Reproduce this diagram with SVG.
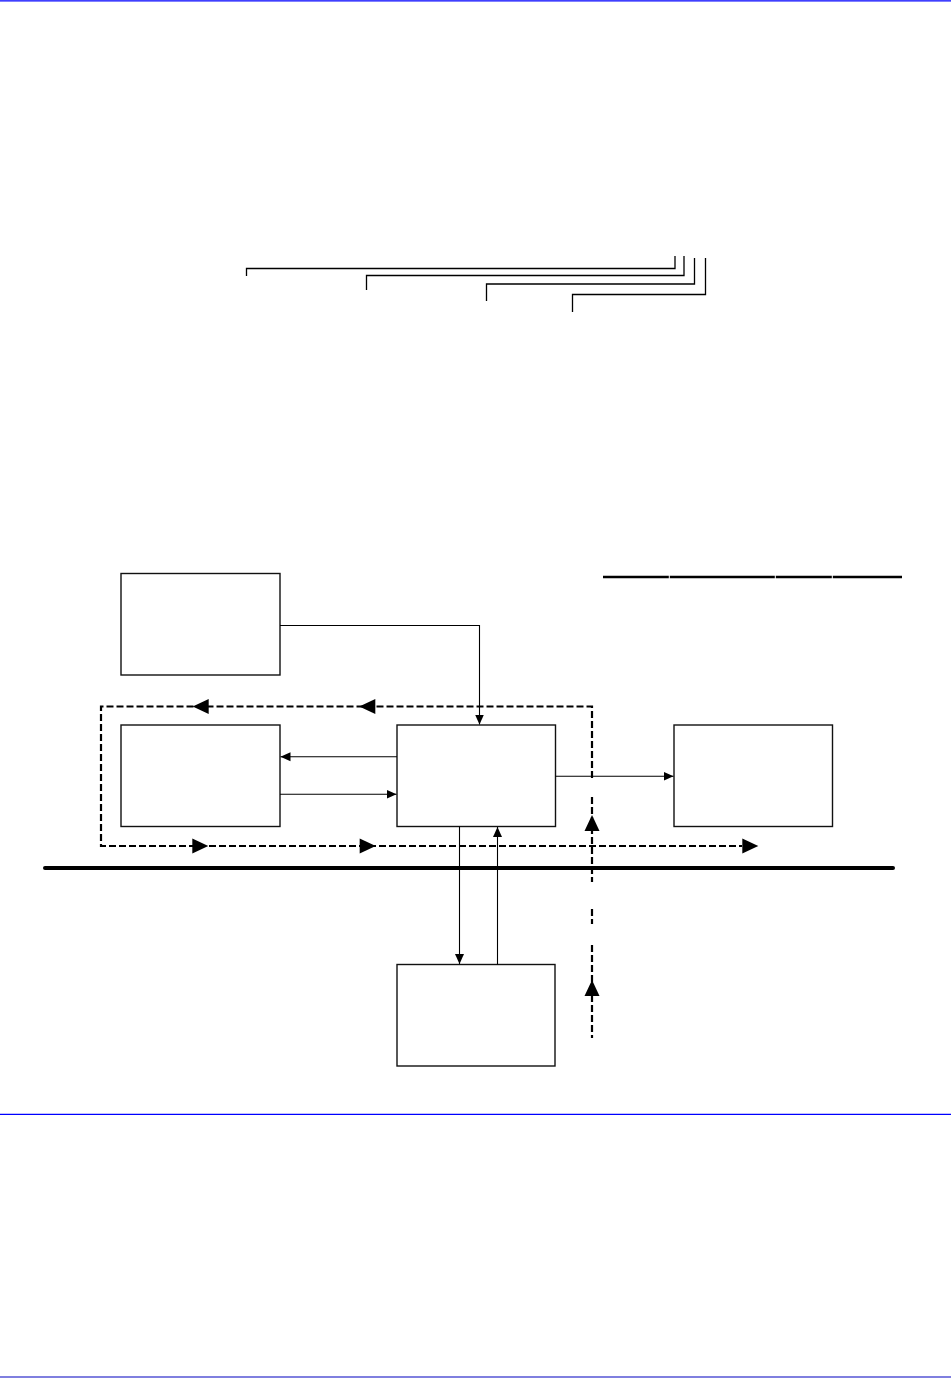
<svg xmlns="http://www.w3.org/2000/svg" xmlns:xlink="http://www.w3.org/1999/xlink" width="951" height="1378" viewBox="0 0 951 1378">
<style>
.box{fill:#fff;stroke:#111;stroke-width:1.4}
.conn{fill:none;stroke:#000;stroke-width:1.1}
.dash{fill:none;stroke:#000;stroke-width:2.2;stroke-dasharray:7,3}
.brk{fill:none;stroke:#000;stroke-width:1.3}
.rule{stroke:#0000ff;stroke-width:1.2}
</style>
<defs>
<marker id="ah" markerUnits="userSpaceOnUse" markerWidth="10" markerHeight="10" viewBox="0 0 10 10" refX="10" refY="5" orient="auto">
<path d="M0,0.5 L10,5 L0,9.5 Z" fill="#000"/>
</marker>
<path id="big" d="M0,0 L-16,-7.5 L-16,7.5 Z" fill="#000"/>
</defs>
<rect width="951" height="1378" fill="#fff"/>
<g id="rules">
<line class="rule" x1="0" y1="0.8" x2="951" y2="0.8"/>
<line class="rule" x1="0" y1="1114.3" x2="951" y2="1114.3"/>
<line x1="0" y1="1377" x2="951" y2="1377" stroke="#0000c0" stroke-width="1.2"/>
</g>
<g id="brackets">
<path class="brk" d="M246.5,276 V268.5 H675 V256"/>
<path class="brk" d="M366.5,290 V275.5 H684 V256"/>
<path class="brk" d="M486.5,301 V284 H694.5 V258"/>
<path class="brk" d="M572.5,312 V294.5 H705.5 V258"/>
</g>
<g id="header-line" stroke="#000" stroke-width="2.4">
<line x1="603" y1="577" x2="668.8" y2="577"/>
<line x1="669.8" y1="577" x2="774.8" y2="577"/>
<line x1="775.8" y1="577" x2="831.8" y2="577"/>
<line x1="832.8" y1="577" x2="902" y2="577"/>
</g>
<g id="node-a"><rect class="box" x="121" y="573.5" width="159" height="101.5"/></g>
<g id="node-b"><rect class="box" x="121" y="725" width="159" height="101.5"/></g>
<g id="node-c"><rect class="box" x="397" y="725" width="158.5" height="101.5"/></g>
<g id="node-d"><rect class="box" x="674" y="725" width="158.5" height="101.5"/></g>
<g id="node-e"><rect class="box" x="397" y="964.5" width="158" height="101.5"/></g>
<g id="bus"><line x1="45" y1="868" x2="893" y2="868" stroke="#000" stroke-width="4" stroke-linecap="round"/></g>
<g id="connectors">
<path class="conn" d="M280,625.5 H479.5 V724.5" marker-end="url(#ah)"/>
<path class="conn" d="M397,756.8 H280.5" marker-end="url(#ah)"/>
<path class="conn" d="M280,794.3 H396.5" marker-end="url(#ah)"/>
<path class="conn" d="M555.5,776.3 H673.5" marker-end="url(#ah)"/>
<path class="conn" d="M459.5,826.5 V964" marker-end="url(#ah)"/>
<path class="conn" d="M497.5,964.5 V827" marker-end="url(#ah)" stroke-width="0.9"/>
<path class="dash" d="M592,778 V706.5 H101 V846 H742"/>
<path class="dash" d="M592,797 V882"/>
<path class="dash" d="M592,909 V924"/>
<path class="dash" d="M592,945 V1038"/>
<use xlink:href="#big" transform="translate(192.7,706.5) rotate(180)"/>
<use xlink:href="#big" transform="translate(359.3,706.5) rotate(180)"/>
<use xlink:href="#big" transform="translate(208.3,846)"/>
<use xlink:href="#big" transform="translate(375.7,846)"/>
<use xlink:href="#big" transform="translate(758.3,846)"/>
<use xlink:href="#big" transform="translate(592,815) rotate(-90)"/>
<use xlink:href="#big" transform="translate(592,980) rotate(-90)"/>
</g>
</svg>
